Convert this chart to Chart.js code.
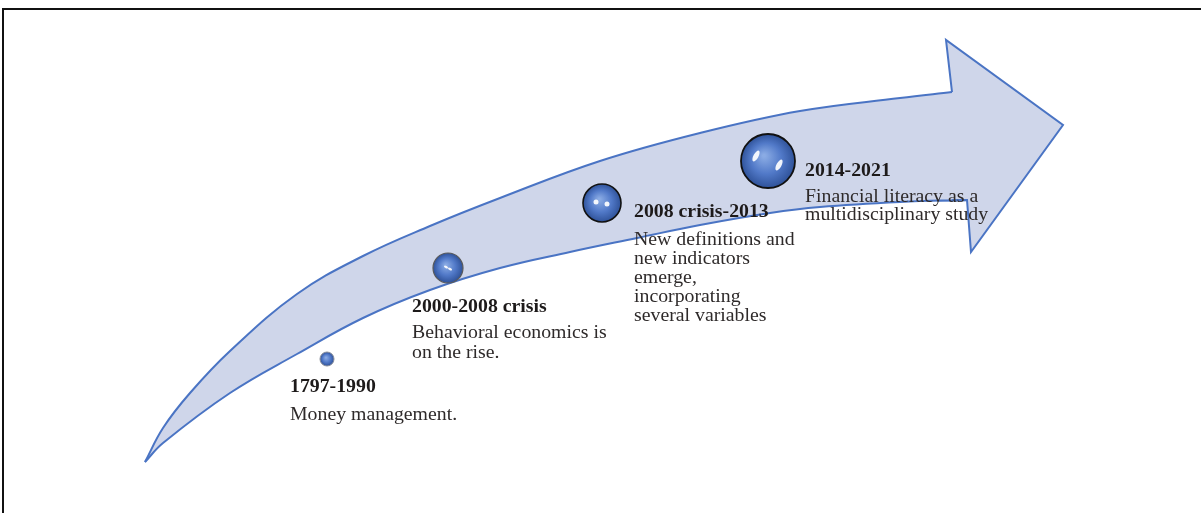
<!DOCTYPE html>
<html><head><meta charset="utf-8">
<script src="https://cdn.jsdelivr.net/npm/chart.js@4.4.1/dist/chart.umd.min.js"></script>
<style>html,body{margin:0;padding:0;background:#fff;}#wrap{position:relative;width:1201px;height:513px;}</style>
</head><body><div id="wrap"><canvas id="c" width="1201" height="513"></canvas></div>
<script>
// ---- data ----
const periods = ['1797-1990', '2000-2008 crisis', '2008 crisis-2013', '2014-2021'];
const descriptions = [
  ['Money management.'],
  ['Behavioral economics is', 'on the rise.'],
  ['New definitions and', 'new indicators', 'emerge,', 'incorporating', 'several variables'],
  ['Financial literacy as a', 'multidisciplinary study']
];
const bubbleX = [327, 448, 602, 768];
const bubbleY = [359, 268, 203, 161];
const bubbleR = [7, 15, 19, 27];
// arrow outline (diagram coordinates)
const upperX = [145, 163, 190, 230, 297, 363, 430, 500, 600, 700, 800, 900, 952];
const upperY = [462, 428, 393, 351, 294, 256, 226, 198, 161, 133, 111, 98, 92];
const lowerX = [145, 163, 230, 297, 363, 430, 500, 570, 637, 700, 770, 820, 900, 967];
const lowerY = [462, 443, 393, 354, 318, 290, 268, 252, 238, 225, 213, 207, 202, 200];
const headX = [952, 946, 1063, 971, 967, 940, 940];
const headY = [92, 40, 125, 252, 200, 200.5, 94];

// ---- layout (label anchors) ----
const labelX = [290, 412, 634, 805];
const titleBase = [392, 312, 217, 176];
const bodyBase = [420, 338, 245, 202];
const bodyGap = [19, 20, 19, 18];

const pts = (xs, ys) => xs.map((x, i) => ({x, y: ys[i]}));
const FILL = '#cfd6ea', STROKE = '#4a74c4';

const framePlugin = {
  id: 'frame',
  beforeDraw(chart) {
    const c = chart.ctx; c.save();
    c.fillStyle = '#fff'; c.fillRect(0, 0, chart.width, chart.height);
    c.fillStyle = '#111';
    c.fillRect(2, 8, chart.width - 2, 2);
    c.fillRect(2, 8, 2, chart.height - 8);
    c.restore();
  }
};

const shineStyle = [
  [],
  [[-2, -1, 2.2, 1.2, 0.5], [2, 1, 2.2, 1.2, 0.5]],
  [[-6, -1, 2.5, 2.5, 0], [5, 1, 2.5, 2.5, 0]],
  [[-12, -5, 2.5, 6, 0.5], [11, 4, 2.5, 6, 0.5]]
];
const shinePlugin = {
  id: 'shine',
  afterDatasetsDraw(chart) {
    const meta = chart.getDatasetMeta(3);
    const c = chart.ctx; c.save();
    meta.data.forEach((el, i) => {
      shineStyle[i].forEach(s => {
        c.beginPath();
        c.fillStyle = 'rgba(255,255,255,0.92)';
        c.ellipse(el.x + s[0], el.y + s[1], s[2], s[3], s[4], 0, Math.PI * 2);
        c.fill();
      });
    });
    c.restore();
  }
};

const textPlugin = {
  id: 'texts',
  afterDraw(chart) {
    const c = chart.ctx, sx = chart.scales.x, sy = chart.scales.y;
    const put = (t, x, y, font, col) => {
      c.save(); c.translate(x, y); c.scale(1.1, 1);
      c.font = font; c.fillStyle = col; c.textBaseline = 'alphabetic';
      c.fillText(t, 0, 0); c.restore();
    };
    periods.forEach((p, i) => {
      const x = sx.getPixelForValue(labelX[i]);
      put(p, x, sy.getPixelForValue(titleBase[i]), 'bold 18px "Liberation Serif"', '#1d1a1a');
      descriptions[i].forEach((line, j) => {
        put(line, x, sy.getPixelForValue(bodyBase[i] + j * bodyGap[i]), '18px "Liberation Serif"', '#2e2a2a');
      });
    });
  }
};

const bubbleFill = (ctx) => {
  if (ctx.type !== 'data' || !ctx.raw) return '#4f78c6';
  const ch = ctx.chart;
  if (!ch.scales || !ch.scales.x || !ch.scales.y) return '#4f78c6';
  const x = ch.scales.x.getPixelForValue(ctx.raw.x), y = ch.scales.y.getPixelForValue(ctx.raw.y), r = ctx.raw.r;
  if (![x, y, r].every(Number.isFinite)) return '#4f78c6';
  const g = ch.ctx.createRadialGradient(x - r * 0.15, y - r * 0.2, r * 0.05, x, y, r);
  g.addColorStop(0, '#8aabe4');
  g.addColorStop(0.55, '#5179c8');
  g.addColorStop(1, '#2f5299');
  return g;
};

new Chart(document.getElementById('c'), {
  type: 'scatter',
  data: {
    datasets: [
      {type: 'line', data: pts(upperX, upperY), borderColor: STROKE, borderWidth: 2, backgroundColor: FILL,
       fill: '+1', pointRadius: 0, tension: 0.4, order: 4},
      {type: 'line', data: pts(lowerX, lowerY), borderColor: STROKE, borderWidth: 2, backgroundColor: FILL,
       fill: false, pointRadius: 0, tension: 0.4, order: 3},
      {type: 'line', data: pts(headX, headY), borderColor: STROKE, borderWidth: 2, backgroundColor: FILL,
       fill: 'shape', pointRadius: 0, tension: 0, order: 5},
      {type: 'bubble', data: bubbleX.map((x, i) => ({x, y: bubbleY[i], r: bubbleR[i]})),
       backgroundColor: bubbleFill, borderColor: ['#8a8f9a', '#5a5a5a', '#111', '#111'],
       borderWidth: [1, 1.2, 1.6, 1.8], order: 1}
    ]
  },
  options: {
    responsive: false, animation: false, events: [],
    layout: {padding: 0, autoPadding: false},
    plugins: {legend: {display: false}, tooltip: {enabled: false}},
    scales: {
      x: {type: 'linear', min: 0, max: 1201, display: false},
      y: {type: 'linear', min: 0, max: 513, reverse: true, display: false}
    }
  },
  plugins: [framePlugin, shinePlugin, textPlugin]
});
</script></body></html>
